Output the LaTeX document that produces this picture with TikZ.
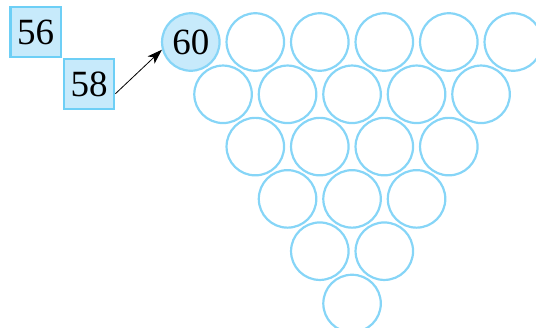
\documentclass[tikz,border=0pt]{standalone}
\usepackage{fontspec}
\setmainfont{Liberation Serif}
\usetikzlibrary{arrows.meta}
\definecolor{ringblue}{HTML}{86D5F7}
\definecolor{boxblue}{HTML}{6DCFF6}
\definecolor{fillblue}{HTML}{C7EAFB}
\tikzset{
  ring/.style={circle, draw=ringblue, line width=2.2pt, minimum size=57.5pt, inner sep=0pt},
  filledring/.style={ring, fill=fillblue},
  numbox/.style={rectangle, draw=boxblue, fill=fillblue, line width=2.2pt, minimum size=50.2pt, inner sep=0pt},
  numtext/.style={font=\fontsize{37}{40}\selectfont, text=black},
  pointer/.style={-{Stealth[length=15pt, width=10pt, inset=4pt]}, line width=0.8pt, black}
}
\begin{document}
\begin{tikzpicture}[x=1pt, y=-1pt]
\useasboundingbox (0,0) rectangle (536,327);
% boxes
\node[numbox, numtext] (b56) at (35.5,32.2) {56};
\node[numbox, numtext] (b58) at (89.2,84.2) {58};
% circles, row 1
\node[filledring, numtext] (c60) at (190.8,42) {60};
\foreach \i in {1,...,5} {
  \node[ring] (r1\i) at ({190.8+64.5*\i},42) {};
}
% row 2
\foreach \i in {0,...,4} {
  \node[ring] (r2\i) at ({223.05+64.5*\i},94.3) {};
}
% row 3
\foreach \i in {0,...,3} {
  \node[ring] (r3\i) at ({255.3+64.5*\i},146.6) {};
}
% row 4
\foreach \i in {0,...,2} {
  \node[ring] (r4\i) at ({287.55+64.5*\i},198.9) {};
}
% row 5
\foreach \i in {0,...,1} {
  \node[ring] (r5\i) at ({319.8+64.5*\i},251.2) {};
}
% row 6
\node[ring] (r60) at (352.05,303.5) {};
% arrow
\draw[pointer] (b58.-20) -- (c60.195);
\end{tikzpicture}
\end{document}
